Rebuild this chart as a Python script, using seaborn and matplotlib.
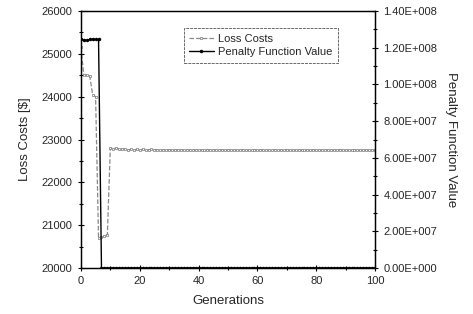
import pandas as pd
import matplotlib
matplotlib.use("Agg")
import matplotlib.pyplot as plt
import seaborn as sns
from matplotlib.ticker import MultipleLocator, FuncFormatter

# values, one per generation (0..100)
generations = list(range(101))
loss_costs = [
    25150, 24500, 24500, 24480, 24050, 24000, 20700, 20720, 20740, 20780,
    22800, 22790, 22800, 22780, 22770, 22780, 22760, 22770, 22760, 22770,
    22760, 22770, 22760, 22760, 22770, 22760, 22760, 22750, 22760, 22760,
    22760, 22760, 22750, 22760, 22760, 22750, 22760, 22750, 22760, 22750,
    22760, 22750, 22750, 22760, 22750, 22760, 22750, 22750, 22760, 22750,
    22750, 22760, 22750, 22750, 22750, 22760, 22750, 22750, 22750, 22760,
    22750, 22750, 22760, 22750, 22750, 22750, 22760, 22750, 22750, 22750,
    22760, 22750, 22750, 22750, 22760, 22750, 22750, 22750, 22750, 22760,
    22750, 22750, 22750, 22760, 22750, 22750, 22750, 22750, 22760, 22750,
    22750, 22750, 22750, 22760, 22750, 22750, 22750, 22750, 22750, 22750,
    22750,
]
penalty = [
    1.25e8, 1.24e8, 1.24e8, 1.245e8, 1.245e8, 1.245e8, 1.245e8, 0, 0, 0,
    0, 0, 0, 0, 0, 0, 0, 0, 0, 0,
    0, 0, 0, 0, 0, 0, 0, 0, 0, 0,
    0, 0, 0, 0, 0, 0, 0, 0, 0, 0,
    0, 0, 0, 0, 0, 0, 0, 0, 0, 0,
    0, 0, 0, 0, 0, 0, 0, 0, 0, 0,
    0, 0, 0, 0, 0, 0, 0, 0, 0, 0,
    0, 0, 0, 0, 0, 0, 0, 0, 0, 0,
    0, 0, 0, 0, 0, 0, 0, 0, 0, 0,
    0, 0, 0, 0, 0, 0, 0, 0, 0, 0,
    0,
]

df = pd.DataFrame({"Generations": generations, "Loss": loss_costs, "Penalty": penalty})

sns.set_style("ticks")
plt.rcParams['font.family'] = ['Liberation Sans', 'DejaVu Sans']

fig, ax = plt.subplots(figsize=(4.73, 3.14), dpi=100)
fig.subplots_adjust(left=0.171, right=0.793, top=0.965, bottom=0.146)
ax2 = ax.twinx()

sns.lineplot(data=df, x="Generations", y="Loss", ax=ax, color="#888888",
             linestyle="--", linewidth=0.9, marker="s", markersize=2,
             markerfacecolor="white", markeredgecolor="#777777",
             markeredgewidth=0.5, label="Loss Costs", legend=False)
sns.lineplot(data=df, x="Generations", y="Penalty", ax=ax2, color="black",
             linewidth=1.0, marker="o", markersize=2.5, markeredgewidth=0,
             label="Penalty Function Value", legend=False)

ax.set_xlim(0, 100)
ax.set_ylim(20000, 26000)
ax2.set_ylim(0, 1.4e8)

ax.xaxis.set_major_locator(MultipleLocator(20))
ax.xaxis.set_minor_locator(MultipleLocator(10))
ax.yaxis.set_major_locator(MultipleLocator(1000))
ax.yaxis.set_minor_locator(MultipleLocator(500))
ax2.yaxis.set_major_locator(MultipleLocator(2e7))
ax2.yaxis.set_minor_locator(MultipleLocator(1e7))

def sci_fmt(v, pos):
    if v == 0:
        return "0.00E+000"
    exp = len(str(int(round(v)))) - 1
    return "%.2fE+%03d" % (v / 10 ** exp, exp)

ax2.yaxis.set_major_formatter(FuncFormatter(sci_fmt))

for a in (ax, ax2):
    a.tick_params(which="both", direction="inout", labelsize=8, width=0.8, color="black")
    a.tick_params(which="major", length=5)
    a.tick_params(which="minor", length=3)
    for s in a.spines.values():
        s.set_visible(True)
        s.set_linewidth(0.9)
        s.set_color("black")

ax.set_xlabel("Generations", fontsize=9.5, labelpad=6)
ax.set_ylabel("Loss Costs [$]", fontsize=9.5, labelpad=8)
ax2.set_ylabel("Penalty Function Value", fontsize=9.5, rotation=270, labelpad=14)

handles = ax.get_lines()[:1] + ax2.get_lines()[:1]
leg = ax.legend(handles, ["Loss Costs", "Penalty Function Value"],
                loc="upper left", bbox_to_anchor=(0.33, 0.955), fontsize=8,
                frameon=True, fancybox=False, handlelength=2.2, borderpad=0.5,
                handletextpad=0.4, labelspacing=0.3)
leg.get_frame().set_edgecolor("#444444")
leg.get_frame().set_linewidth(0.7)
leg.get_frame().set_linestyle((0, (3, 1)))

fig.savefig("out.png", dpi=100)
